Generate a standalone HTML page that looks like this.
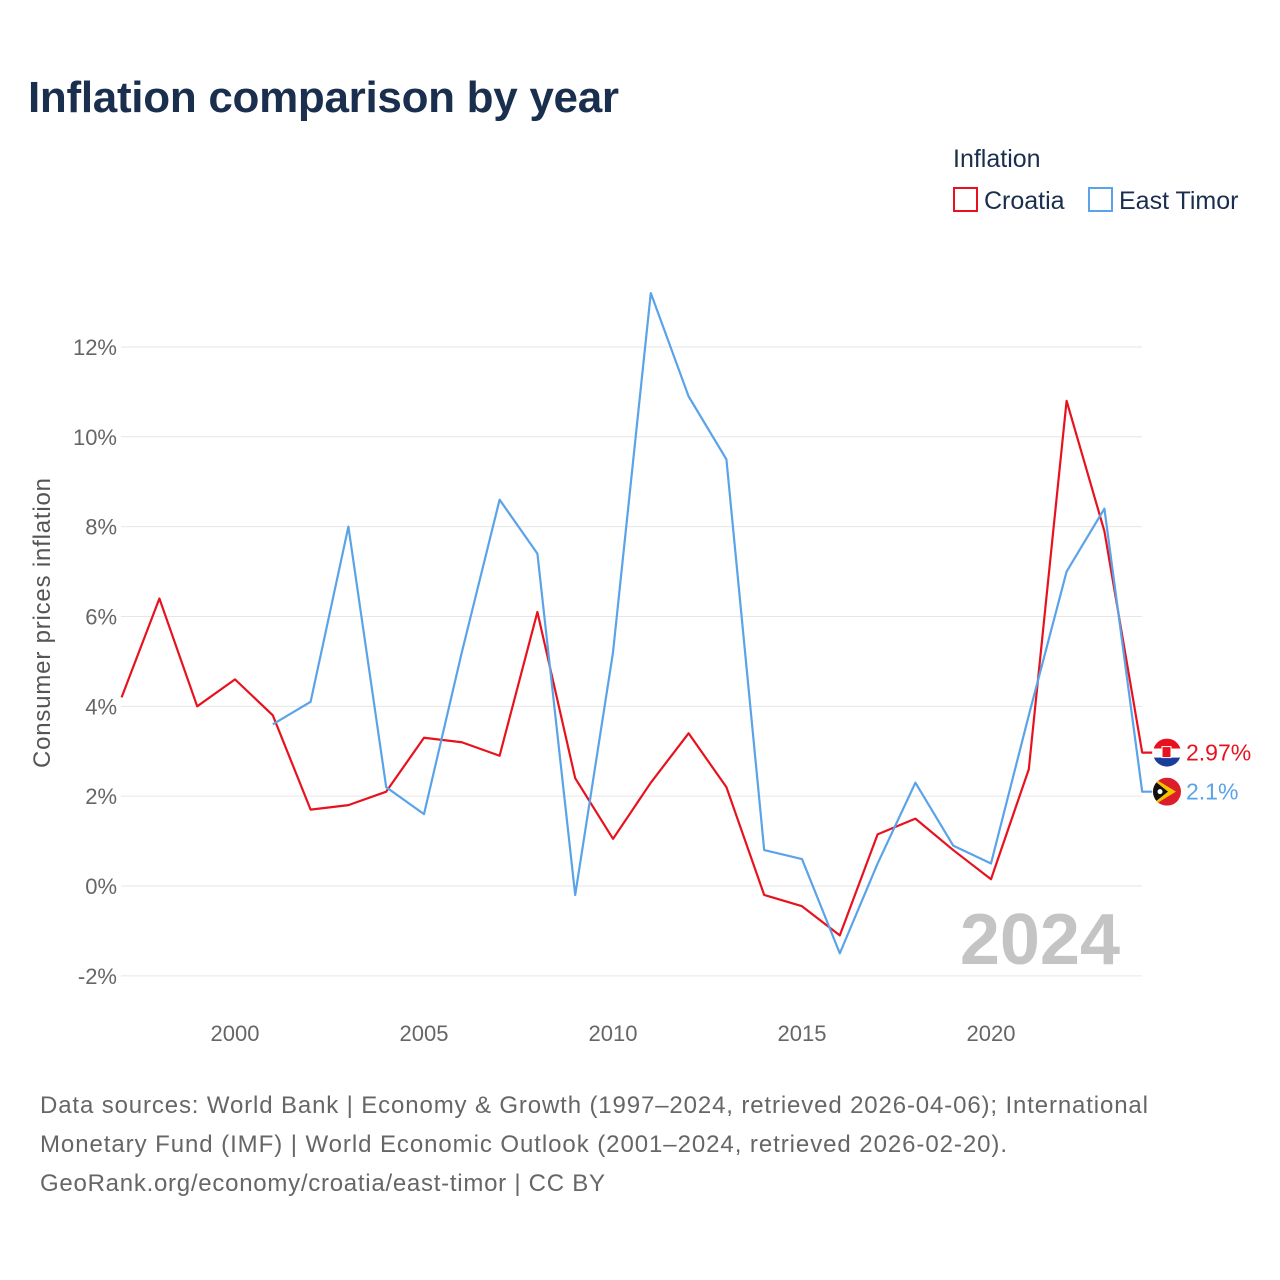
<!DOCTYPE html>
<html><head><meta charset="utf-8"><style>
body{margin:0;background:#fff;font-family:"Liberation Sans",sans-serif;}
#wrap{position:relative;width:1280px;height:1280px;overflow:hidden;}
</style></head><body>
<div id="wrap">
<svg id="chart" width="1280" height="1280" style="font-family:'Liberation Sans',sans-serif">
<text x="28" y="112" font-size="44" font-weight="bold" fill="#1a2e4e" textLength="591">Inflation comparison by year</text>
<text x="953" y="167" font-size="25" fill="#1a2e4e">Inflation</text>
<g><rect x="954" y="188" width="23" height="23" fill="none" stroke="#e8121e" stroke-width="2"/><text x="984" y="209" font-size="25" fill="#1a2e4e">Croatia</text></g>
<g><rect x="1089" y="188" width="23" height="23" fill="none" stroke="#5aa3e8" stroke-width="2"/><text x="1119" y="209" font-size="25" fill="#1a2e4e">East Timor</text></g>
<g id="grid"></g><g id="yticks"></g><g id="xticks"></g>
<text x="1120" y="964" font-size="72" font-weight="bold" fill="#c4c4c4" text-anchor="end">2024</text>
<g id="lines"></g>
<text transform="translate(50,623) rotate(-90)" font-size="24" fill="#555" text-anchor="middle" textLength="290">Consumer prices inflation</text>
<g font-size="24" fill="#666">
<text x="40" y="1113" textLength="1108">Data sources: World Bank | Economy &amp; Growth (1997–2024, retrieved 2026-04-06); International</text>
<text x="40" y="1152" textLength="967">Monetary Fund (IMF) | World Economic Outlook (2001–2024, retrieved 2026-02-20).</text>
<text x="40" y="1191" textLength="565">GeoRank.org/economy/croatia/east-timor | CC BY</text>
</g>
</svg>
</div>
<script>
const yTicks=[-2,0,2,4,6,8,10,12];
const xTicks=[2000,2005,2010,2015,2020];
const croatiaYears=[1997,1998,1999,2000,2001,2002,2003,2004,2005,2006,2007,2008,2009,2010,2011,2012,2013,2014,2015,2016,2017,2018,2019,2020,2021,2022,2023,2024];
const croatiaValues=[4.2,6.4,4.0,4.6,3.8,1.7,1.8,2.1,3.3,3.2,2.9,6.1,2.4,1.05,2.3,3.4,2.2,-0.2,-0.45,-1.1,1.15,1.5,0.8,0.15,2.6,10.8,7.9,2.97];
const timorYears=[2001,2002,2003,2004,2005,2006,2007,2008,2009,2010,2011,2012,2013,2014,2015,2016,2017,2018,2019,2020,2021,2022,2023,2024];
const timorValues=[3.6,4.1,8.0,2.2,1.6,5.2,8.6,7.4,-0.2,5.2,13.2,10.9,9.5,0.8,0.6,-1.5,0.5,2.3,0.9,0.5,3.8,7.0,8.4,2.1];
const NS='http://www.w3.org/2000/svg';
const X=y=>121.6+(y-1997)*37.8;
const Y=v=>886-v*44.92;
function mk(t,a,p){const e=document.createElementNS(NS,t);for(const k in a)e.setAttribute(k,a[k]);p.appendChild(e);return e;}
const grid=document.getElementById('grid'),yt=document.getElementById('yticks'),xt=document.getElementById('xticks'),ln=document.getElementById('lines');
yTicks.forEach(v=>{
 const l=mk('line',{x1:121,x2:1142,y1:Y(v),y2:Y(v),stroke:'#e6e6e6','stroke-width':1},grid);
 
 
 const t=mk('text',{x:117,y:Y(v)+8,'font-size':22,fill:'#666','text-anchor':'end'},yt);
 t.textContent=v+'%';
 
 
});
xTicks.forEach(v=>{
 const t=mk('text',{x:X(v),y:1041,'font-size':22,fill:'#666','text-anchor':'middle'},xt);
 t.textContent=v;
 
 
});
function series(years,vals,color,name){
 let d=years.map((y,i)=>(i?'L':'M')+X(y)+','+Y(vals[i])).join(' ');
 const last=vals[vals.length-1];
 d+=' L'+(X(2024)+10)+','+Y(last);
 const p=mk('path',{d:d,fill:'none',stroke:color,'stroke-width':2.2,'stroke-linejoin':'round'},ln);
 
 
 return last;
}
const cl=series(croatiaYears,croatiaValues,'#e8121e','croatia');
const tl=series(timorYears,timorValues,'#5aa3e8','east-timor');
const cy=Y(cl),ty=Y(tl);
const f1=mk('g',{},ln);


const cp=mk('clipPath',{id:'c1'},f1);
mk('circle',{cx:1167,cy:cy,r:14},cp);
const g1=mk('g',{'clip-path':'url(#c1)'},f1);
mk('rect',{x:1153,y:cy-14,width:28,height:10,fill:'#e8121e'},g1);
mk('rect',{x:1153,y:cy-4,width:28,height:9,fill:'#fff'},g1);
mk('rect',{x:1153,y:cy+5,width:28,height:10,fill:'#1a3d9a'},g1);
mk('rect',{x:1162,y:cy-6,width:9,height:11,fill:'#e8121e',stroke:'#fff','stroke-width':1},g1);
const f2=mk('g',{},ln);


const cp2=mk('clipPath',{id:'c2'},f2);
mk('circle',{cx:1167,cy:ty,r:14},cp2);
const g2=mk('g',{'clip-path':'url(#c2)'},f2);
mk('rect',{x:1153,y:ty-14,width:28,height:28,fill:'#dc1d2a'},g2);
mk('path',{d:`M1153,${ty-14} L1176,${ty} L1153,${ty+14}Z`,fill:'#f5c400'},g2);
mk('path',{d:`M1153,${ty-12} L1168,${ty} L1153,${ty+12}Z`,fill:'#111'},g2);
mk('circle',{cx:1160,cy:ty,r:2.5,fill:'#fff'},g2);
const l1=mk('text',{x:1186,y:cy+8,'font-size':23,fill:'#e8121e'},ln);l1.textContent=cl+'%';


const l2=mk('text',{x:1186,y:ty+8,'font-size':23,fill:'#5aa3e8'},ln);l2.textContent=tl+'%';


</script>
</body></html>
